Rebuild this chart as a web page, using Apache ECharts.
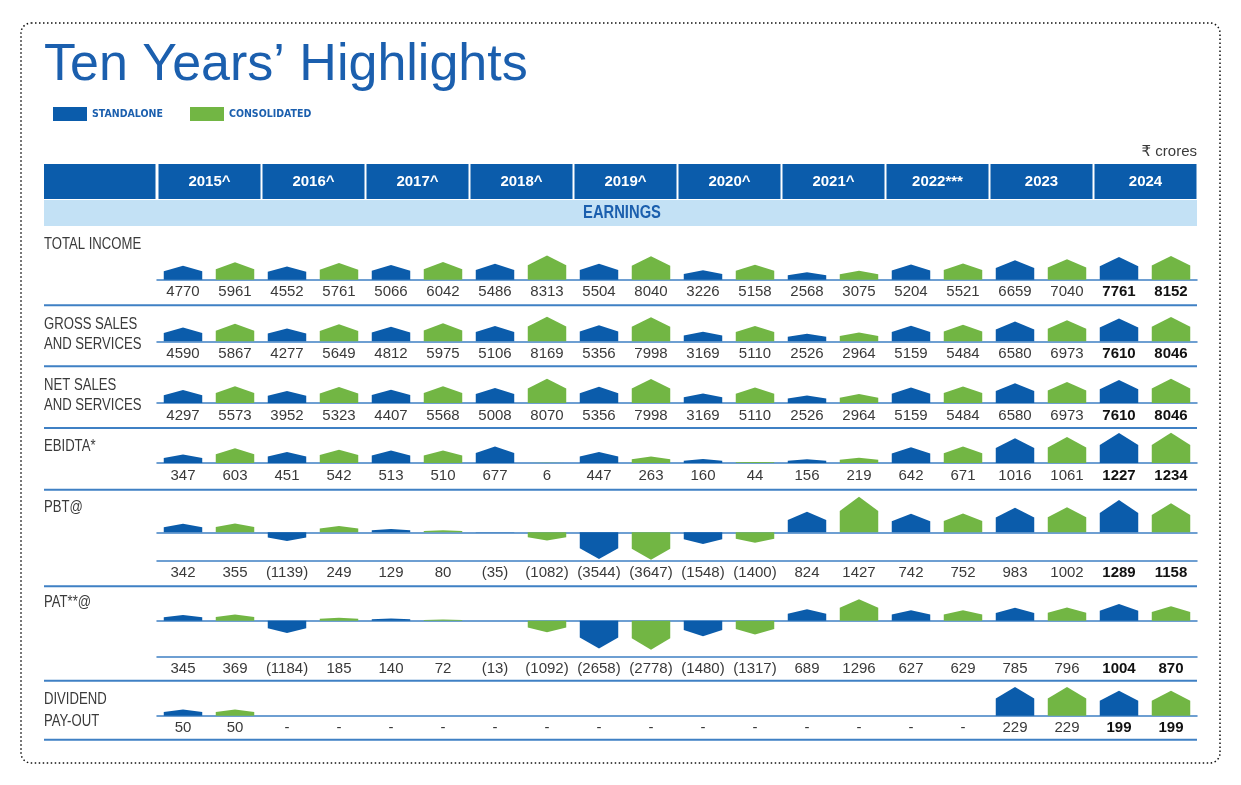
<!DOCTYPE html>
<html>
<head>
<meta charset="utf-8">
<title>Ten Years' Highlights</title>
<script src="https://cdn.jsdelivr.net/npm/echarts@6/dist/echarts.min.js"></script>
<style>
html, body { margin: 0; padding: 0; background: #fff; }
#chart { width: 1241px; height: 785px; }
</style>
</head>
<body>
<div id="chart"></div>
<script>
// header years
var years = ['2015^', '2016^', '2017^', '2018^', '2019^', '2020^', '2021^', '2022***', '2023', '2024'];

// ₹ crores, standalone (S) and consolidated (C)
var totalIncomeS = [4770, 4552, 5066, 5486, 5504, 3226, 2568, 5204, 6659, 7761];
var totalIncomeC = [5961, 5761, 6042, 8313, 8040, 5158, 3075, 5521, 7040, 8152];
var grossSalesS = [4590, 4277, 4812, 5106, 5356, 3169, 2526, 5159, 6580, 7610];
var grossSalesC = [5867, 5649, 5975, 8169, 7998, 5110, 2964, 5484, 6973, 8046];
var netSalesS = [4297, 3952, 4407, 5008, 5356, 3169, 2526, 5159, 6580, 7610];
var netSalesC = [5573, 5323, 5568, 8070, 7998, 5110, 2964, 5484, 6973, 8046];
var ebidtaS = [347, 451, 513, 677, 447, 160, 156, 642, 1016, 1227];
var ebidtaC = [603, 542, 510, 6, 263, 44, 219, 671, 1061, 1234];
var pbtS = [342, -1139, 129, -35, -3544, -1548, 824, 742, 983, 1289];
var pbtC = [355, 249, 80, -1082, -3647, -1400, 1427, 752, 1002, 1158];
var patS = [345, -1184, 140, -13, -2658, -1480, 689, 627, 785, 1004];
var patC = [369, 185, 72, -1092, -2778, -1317, 1296, 629, 796, 870];
var dividendS = [50, null, null, null, null, null, null, null, 229, 199];
var dividendC = [50, null, null, null, null, null, null, null, 229, 199];

var BLUE = '#0b5cab';
var GREEN = '#72b644';
var LINE = '#3f80c4';
var TEXT = '#3a3a3a';
var TITLE = '#1b5fae';
var SANS = "'Liberation Sans', Arial, sans-serif";
var CONDENSED = "'DejaVu Sans Condensed', sans-serif";
var NARROW_SCALE = 0.82; // Liberation Sans squeezed to look like Arial Narrow

// row layout (pixels) and value range of each row
var rows = [
    { name: ['TOTAL INCOME'], s: totalIncomeS, c: totalIncomeC, nameY: [245], base: 279.7, up: 30, max: 10300, sep: 305.3 },
    { name: ['GROSS SALES', 'AND SERVICES'], s: grossSalesS, c: grossSalesC, nameY: [324.7, 344.7], base: 341.3, up: 28, max: 9300, sep: 366.3 },
    { name: ['NET SALES', 'AND SERVICES'], s: netSalesS, c: netSalesC, nameY: [385.7, 405.7], base: 403, up: 28, max: 9300, sep: 428 },
    { name: ['EBIDTA*'], s: ebidtaS, c: ebidtaC, nameY: [447], base: 463, up: 34, max: 1390, sep: 489.7 },
    { name: ['PBT@'], s: pbtS, c: pbtC, nameY: [508], base: 532.3, up: 38, max: 1520, down: 28.4, min: -3760, sep: 586.3 },
    { name: ['PAT**@'], s: patS, c: patC, nameY: [603], base: 620.7, up: 24, max: 1450, down: 35.6, min: -3400, sep: 680.7 },
    { name: ['DIVIDEND', 'PAY-OUT'], s: dividendS, c: dividendC, nameY: [699.7, 721.3], base: 715.7, up: 30, max: 240, sep: 739.7 }
];

// 20 slots: standalone then consolidated for every year
var slots = [];
years.forEach(function (y) { slots.push(y + ' S', y + ' C'); });

var grids = [], xAxes = [], yAxes = [], series = [];

function fmt(v) {
    if (v == null) return '-';
    return v < 0 ? '(' + (-v) + ')' : String(v);
}

// house shaped bar: rectangle with a pointed roof (or keel when negative)
function house(color) {
    return function (params, api) {
        var v = api.value(1);
        if (v == null || isNaN(v) || v === 0) return;
        var x = api.value(0);
        var p0 = api.coord([x, 0]);
        var p1 = api.coord([x, v]);
        var w = api.size([1, 0])[0] * 0.74;
        var l = p0[0] - w / 2, r = p0[0] + w / 2;
        var sh = p1[1] + (p0[1] - p1[1]) * 0.4;
        return {
            type: 'polygon',
            shape: { points: [[l, p0[1]], [l, sh], [p0[0], p1[1]], [r, sh], [r, p0[1]]] },
            style: { fill: color }
        };
    };
}

function addGrid(row, top, height, min, max, withLabels, part) {
    var idx = grids.length;
    grids.push({ left: 157, width: 1040, top: top, height: height });
    xAxes.push({
        gridIndex: idx,
        type: 'category',
        data: slots,
        axisLine: { show: true, onZero: false, lineStyle: { color: LINE, width: 1.5 } },
        axisTick: { show: false },
        axisLabel: {
            show: withLabels,
            interval: 0,
            margin: 5,
            formatter: function (value, index) {
                var v = index % 2 === 0 ? row.s[index / 2] : row.c[(index - 1) / 2];
                return (index >= 18 ? '{b|' : '{n|') + fmt(v) + '}';
            },
            rich: {
                n: { fontFamily: SANS, fontSize: 15, color: TEXT },
                b: { fontFamily: SANS, fontSize: 15, fontWeight: 'bold', color: '#111' }
            }
        }
    });
    yAxes.push({ gridIndex: idx, type: 'value', min: min, max: max, show: false });
    [['STANDALONE', row.s, BLUE, 0], ['CONSOLIDATED', row.c, GREEN, 1]].forEach(function (d) {
        series.push({
            type: 'custom',
            name: d[0],
            xAxisIndex: idx,
            yAxisIndex: idx,
            itemStyle: { color: d[2] },
            renderItem: house(d[2]),
            data: d[1].map(function (v, i) {
                var val = v == null ? null : (part === 'up' ? Math.max(v, 0) : Math.min(v, 0));
                return [2 * i + d[3], val];
            })
        });
    });
}

rows.forEach(function (row) {
    addGrid(row, row.base - row.up, row.up, 0, row.max, !row.down, 'up');
    if (row.down) addGrid(row, row.base, row.down, row.min, 0, true, 'down');
});

// page decoration
var graphic = [];
graphic.push({
    type: 'rect', shape: { x: 21, y: 23, width: 1199, height: 740, r: 10 },
    style: { fill: 'none', stroke: '#111', lineWidth: 1.5, lineDash: [1.5, 2.5] }
});
graphic.push({
    type: 'text', x: 44, y: 66,
    style: { text: 'Ten Years\u2019 Highlights', fill: TITLE, font: '52px ' + SANS, verticalAlign: 'middle' }
});
graphic.push({
    type: 'text', x: 1197, y: 152,
    style: { text: '\u20b9 crores', fill: TEXT, font: "15px 'Liberation Sans', 'DejaVu Sans', sans-serif", align: 'right', verticalAlign: 'middle' }
});
graphic.push({ type: 'rect', shape: { x: 44, y: 164, width: 111.5, height: 35 }, style: { fill: BLUE } });
years.forEach(function (y, i) {
    var x0 = 157 + 104 * i + 1.5;
    graphic.push({ type: 'rect', shape: { x: x0, y: 164, width: 102, height: 35 }, style: { fill: BLUE } });
    graphic.push({
        type: 'text', x: x0 + 51, y: 182,
        style: { text: y, fill: '#fff', font: 'bold 15px ' + SANS, align: 'center', verticalAlign: 'middle' }
    });
});
graphic.push({ type: 'rect', shape: { x: 44, y: 200, width: 1153, height: 26 }, style: { fill: '#c3e1f5' } });
graphic.push({
    type: 'text', x: 622, y: 213.5, scaleX: NARROW_SCALE,
    style: { text: 'EARNINGS', fill: TITLE, font: 'bold 18px ' + SANS, align: 'center', verticalAlign: 'middle' }
});
rows.forEach(function (row) {
    row.name.forEach(function (t, j) {
        graphic.push({
            type: 'text', x: 44, y: row.nameY[j], scaleX: NARROW_SCALE,
            style: { text: t, fill: TEXT, font: '16px ' + SANS, verticalAlign: 'middle' }
        });
    });
    graphic.push({
        type: 'line', shape: { x1: 44, y1: row.sep, x2: 1197, y2: row.sep },
        style: { stroke: LINE, lineWidth: 2 }
    });
});

var legendText = { color: TITLE, fontFamily: CONDENSED, fontWeight: 'bold', fontSize: 10.5 };
var option = {
    animation: false,
    backgroundColor: '#fff',
    legend: [
        { data: ['STANDALONE'], left: 53, top: 107, icon: 'rect', itemWidth: 34, itemHeight: 14, itemGap: 0, selectedMode: false, textStyle: legendText, padding: 0 },
        { data: ['CONSOLIDATED'], left: 190, top: 107, icon: 'rect', itemWidth: 34, itemHeight: 14, itemGap: 0, selectedMode: false, textStyle: legendText, padding: 0 }
    ],
    grid: grids,
    xAxis: xAxes,
    yAxis: yAxes,
    series: series,
    graphic: graphic
};

var myChart = echarts.init(document.getElementById('chart'));
myChart.setOption(option);
</script>
</body>
</html>
